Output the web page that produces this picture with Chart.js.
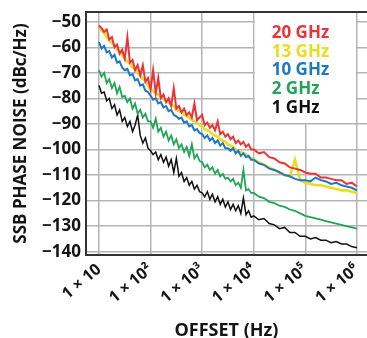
<!DOCTYPE html>
<html>
<head>
<meta charset="utf-8">
<script src="https://cdn.jsdelivr.net/npm/chart.js@4"></script>
<style>
  html, body { margin: 0; padding: 0; background: #fff; }
  #wrap { width: 367px; height: 338px; }
</style>
</head>
<body>
<div id="wrap"><canvas id="noise" width="367" height="338"></canvas></div>
<script>
// offset frequencies (Hz): 20 readings per decade up to 10 kHz, 10 per decade above
const freqHz = [
  10, 11.2, 12.6, 14.1, 15.8, 17.8, 20, 22.4, 25.1, 28.2, 31.6, 35.5, 39.8, 44.7, 50.1, 56.2, 63.1, 70.8, 79.4, 89.1,
  100, 112, 126, 141, 158, 178, 200, 224, 251, 282, 316, 355, 398, 447, 501, 562, 631, 708, 794, 891,
  1000, 1120, 1260, 1410, 1580, 1780, 2000, 2240, 2510, 2820, 3160, 3550, 3980, 4470, 5010, 5620, 6310, 7080, 7940, 8910,
  10000, 12600, 15800, 20000, 25100, 31600, 39800, 50100, 63100, 79400,
  100000, 126000, 158000, 200000, 251000, 316000, 398000, 501000, 631000, 794000, 1000000];

// SSB phase noise (dBc/Hz)
const noise20GHz = [
  -51.5, -52.5, -54, -53, -57, -56, -60, -59, -62.5, -61, -64.5, -56, -66, -65, -69, -67, -71, -67, -73.5, -72,
  -76.5, -69, -78, -72, -80, -78.5, -81.5, -80, -83, -76, -84, -83, -85.5, -84, -86.5, -85.5, -87.5, -82, -88.5, -87.5,
  -86.5, -90.5, -89.5, -91.5, -90.5, -92.5, -89, -94, -93, -95, -94, -96, -95, -97.5, -96.5, -98, -97, -99, -98, -100,
  -100, -101.5, -101, -103, -103.5, -105, -105.5, -107, -107.5, -108,
  -109, -109.5, -109.5, -111, -111, -111.5, -112, -112, -113.5, -113, -114.5];
const noise13GHz = [
  -52, -53.5, -54.5, -56, -57, -58.5, -59, -61, -61.5, -63, -64.5, -65.5, -66.5, -68, -68.5, -70, -71, -72.5, -73, -75,
  -76.5, -77, -78, -78.5, -79.5, -80, -81, -81.5, -82.5, -83, -84.5, -85, -85.5, -86.5, -87, -87.5, -88.5, -89, -89.5, -90.5,
  -91, -92, -92.5, -93, -94, -94.5, -95, -96, -96.5, -97, -98, -98.5, -99, -100, -100.5, -101, -101.5, -102, -103, -103.5,
  -104, -105, -106, -107, -108, -109, -110, -110.5, -104, -112,
  -113, -113.5, -114, -114, -114.5, -115, -115.5, -116, -116, -116.5, -117];
const noise10GHz = [
  -58, -60.5, -59.5, -62, -61.5, -64, -63, -66, -65.5, -68, -69, -68.5, -71, -70.5, -73, -72.5, -75, -74.5, -77, -77.5,
  -79, -80.5, -80, -82, -81.5, -83.5, -83, -85, -84.5, -86.5, -87, -88, -87.5, -89.5, -89, -91, -90.5, -92.5, -92, -93.5,
  -94, -95.5, -94.5, -96.5, -95.5, -97.5, -96.5, -98.5, -97.5, -99.5, -99.5, -100.5, -99.5, -101.5, -100.5, -102.5, -101.5, -103, -102.5, -104,
  -104, -105.5, -106, -107.5, -108, -109, -110, -110.5, -111.5, -112,
  -112, -112.5, -111, -112, -112.5, -113.5, -113, -114, -114.5, -115, -116];
const noise2GHz = [
  -69, -71.5, -70, -74, -72.5, -76, -74, -78, -75.5, -79.5, -79, -81.5, -80, -84, -82, -86, -84.5, -87.5, -86, -89,
  -89, -91.5, -88, -93, -91.5, -95, -93, -96.5, -94.5, -98, -96, -99.5, -98, -101, -99, -102.5, -98, -103.5, -102, -104.5,
  -105, -107, -106, -108, -107, -109.5, -108, -110.5, -109.5, -111.5, -111, -112.5, -111.5, -114, -113, -115, -108, -116, -115.5, -117,
  -117, -118.5, -119, -120.5, -121, -122, -122.5, -123.5, -124, -125,
  -126, -126.5, -127, -127.5, -128, -128.5, -129, -129.5, -130, -130.5, -131];
const noise1GHz = [
  -75, -78, -77.5, -81, -80, -84, -82.5, -86.5, -84.5, -89, -87.5, -91, -89, -93, -90.5, -86.5, -94.5, -97.5, -95.5, -99.5,
  -100.5, -102, -101, -104, -102, -105, -103, -106.5, -104, -109, -103.5, -110.5, -109, -112.5, -111, -114, -112.5, -115.5, -114, -116.5,
  -117, -118.5, -116.5, -119.5, -117.5, -120.5, -118.5, -121.5, -119.5, -122.5, -120.5, -123.5, -121.5, -124, -122, -125, -119, -125.5, -124, -126.5,
  -126, -127.5, -127, -129, -129.5, -131, -130.5, -132.5, -132.5, -134,
  -134, -135, -134.5, -135.5, -135.5, -136.5, -136, -137, -137, -138, -138.5];

const seriesNames = ['20 GHz', '13 GHz', '10 GHz', '2 GHz', '1 GHz'];
const seriesValues = [noise20GHz, noise13GHz, noise10GHz, noise2GHz, noise1GHz];
const seriesColors = ['#ec3338', '#e9dd1f', '#1c78c2', '#22a455', '#111111'];
const lineWidths = [2, 2.6, 2, 1.8, 1.5];
const drawOrder = [0, 2, 1, 3, 4];

const xTickValues = [10, 100, 1000, 10000, 100000, 1000000];
const xTickLabels = ['1 × 10', '1 × 10²', '1 × 10³', '1 × 10⁴', '1 × 10⁵', '1 × 10⁶'];
const yTickValues = [-50, -60, -70, -80, -90, -100, -110, -120, -130, -140];

Chart.defaults.font.family = "'Open Sans', sans-serif";
Chart.defaults.color = '#141414';

const datasets = seriesNames.map((name, i) => ({
  label: name,
  data: freqHz.map((f, j) => ({ x: f, y: seriesValues[i][j] })),
  borderColor: seriesColors[i],
  backgroundColor: seriesColors[i],
  borderWidth: lineWidths[i],
  pointRadius: 0,
  tension: 0,
  order: drawOrder[i],
}));

// white box with the coloured labels, plus top frame line
const legendBox = {
  id: 'legendBox',
  beforeDatasetsDraw(chart) {
    const { ctx, chartArea, scales } = chart;
    const x1 = scales.x.getPixelForValue(1e4) + 1;
    const x2 = scales.x.getPixelForValue(1e6) - 1;
    const y2 = scales.y.getPixelForValue(-90) - 1;
    ctx.save();
    ctx.fillStyle = '#fff';
    ctx.fillRect(x1, chartArea.top, x2 - x1, y2 - chartArea.top);
    ctx.strokeStyle = '#333';
    ctx.lineWidth = 2;
    ctx.beginPath();
    ctx.moveTo(chartArea.left - 1, chartArea.top);
    ctx.lineTo(chartArea.right, chartArea.top);
    ctx.stroke();
    ctx.restore();
  },
  afterDatasetsDraw(chart) {
    const { ctx, chartArea, scales } = chart;
    const x = scales.x.getPixelForValue(1e4) + 18;
    ctx.save();
    ctx.font = "bold 17px 'Open Sans', sans-serif";
    ctx.textAlign = 'left';
    ctx.textBaseline = 'alphabetic';
    seriesNames.forEach((name, i) => {
      ctx.fillStyle = seriesColors[i];
      ctx.fillText(name, x, chartArea.top + 26 + i * 18.7);
    });
    ctx.restore();
  }
};

new Chart(document.getElementById('noise'), {
  type: 'line',
  data: { datasets },
  options: {
    responsive: false,
    animation: false,
    layout: { padding: { top: 12, right: 0, left: 0, bottom: 0 } },
    plugins: { legend: { display: false }, tooltip: { enabled: false } },
    scales: {
      x: {
        type: 'logarithmic',
        min: 5.6,
        max: 1.57e6,
        afterBuildTicks: (scale) => { scale.ticks = xTickValues.map(v => ({ value: v })); },
        afterFit: (scale) => { scale.height = 83; scale.paddingLeft = 0; scale.paddingRight = 0; },
        ticks: {
          autoSkip: false,
          minRotation: 40,
          maxRotation: 40,
          padding: 5,
          font: { size: 16, weight: 'bold' },
          callback: (v) => xTickLabels[xTickValues.indexOf(v)],
        },
        grid: { color: '#b4b4b4', lineWidth: 1.5, drawTicks: false },
        border: { color: '#333', width: 2 },
        title: {
          display: true,
          text: 'OFFSET (Hz)',
          font: { size: 18, weight: 'bold', lineHeight: 0.8 },
          padding: { top: 0, bottom: 0 },
        },
      },
      y: {
        min: -141.3,
        max: -46.2,
        afterBuildTicks: (scale) => { scale.ticks = yTickValues.map(v => ({ value: v })); },
        afterFit: (scale) => { scale.width = 86; scale.paddingTop = 0; scale.paddingBottom = 0; },
        ticks: {
          padding: 5,
          font: { size: 17, weight: 'bold' },
          callback: (v) => '−' + Math.abs(v),
        },
        grid: { color: '#b4b4b4', lineWidth: 1.5, drawTicks: false },
        border: { color: '#333', width: 2 },
        title: {
          display: true,
          text: 'SSB PHASE NOISE (dBc/Hz)',
          font: { size: 17, weight: 'bold', lineHeight: 1.2 },
          padding: { top: 11, bottom: 0 },
        },
      },
    },
  },
  plugins: [legendBox],
});
</script>
</body>
</html>
